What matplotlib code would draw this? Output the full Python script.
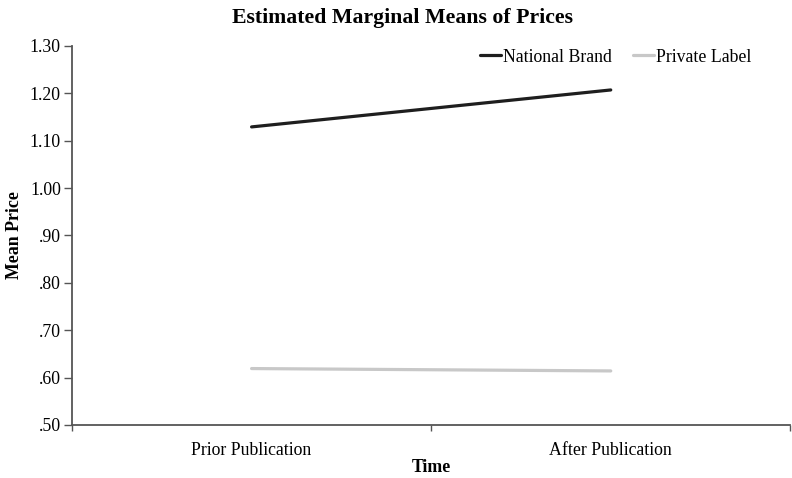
import matplotlib.pyplot as plt
import numpy as np

# Data
time_labels = ['Prior Publication', 'After Publication']
national_brand = [1.129, 1.207]
private_label = [0.619, 0.614]
y_ticks = [0.50, 0.60, 0.70, 0.80, 0.90, 1.00, 1.10, 1.20, 1.30]

plt.rcParams['font.family'] = ['Liberation Serif', 'DejaVu Serif']

fig = plt.figure(figsize=(7.92, 4.78), dpi=100)
ax = fig.add_axes([0.0909, 0.111, 0.907, 0.793])

x = np.arange(len(time_labels)) + 0.5
ax.plot(x, national_brand, color='#1e1e1e', lw=2.3, label='National Brand', solid_capstyle='round')
ax.plot(x, private_label, color='#c8c8c8', lw=2.3, label='Private Label', solid_capstyle='round')

ax.set_xlim(0, 2)
ax.set_ylim(0.5, 1.3)
ax.set_yticks(y_ticks)
ax.set_yticklabels([('%.2f' % v).lstrip('0') for v in y_ticks])

# tick marks between categories, labels centred on categories
ax.set_xticks([0, 1, 2])
ax.set_xticklabels(['', '', ''])
ax.set_xticks(x, minor=True)
ax.set_xticklabels(time_labels, minor=True)
ax.tick_params(axis='x', which='minor', length=0, pad=12, labelsize=12.8)
ax.tick_params(axis='x', which='major', length=4, width=1, color='#555555')
ax.tick_params(axis='y', length=6, width=1, color='#555555', labelsize=12.8, pad=2)

for s in ['top', 'right']:
    ax.spines[s].set_visible(False)
for s in ['left', 'bottom']:
    ax.spines[s].set_color('#555555')
    ax.spines[s].set_linewidth(1.3)

fig.text(402 / 792, 1 - 18 / 478, 'Estimated Marginal Means of Prices', fontsize=15.7,
         fontweight='bold', ha='center', va='center')
ax.set_xlabel('Time', fontsize=12.8, fontweight='bold', labelpad=0)
ax.set_ylabel('Mean Price', fontsize=12.9, fontweight='bold', labelpad=5)

ax.legend(loc='upper right', bbox_to_anchor=(0.968, 1.035), ncol=2, frameon=False,
          fontsize=12.8, handlelength=1.2, handletextpad=0.1, columnspacing=1.2)

fig.savefig('out.png', dpi=100)
